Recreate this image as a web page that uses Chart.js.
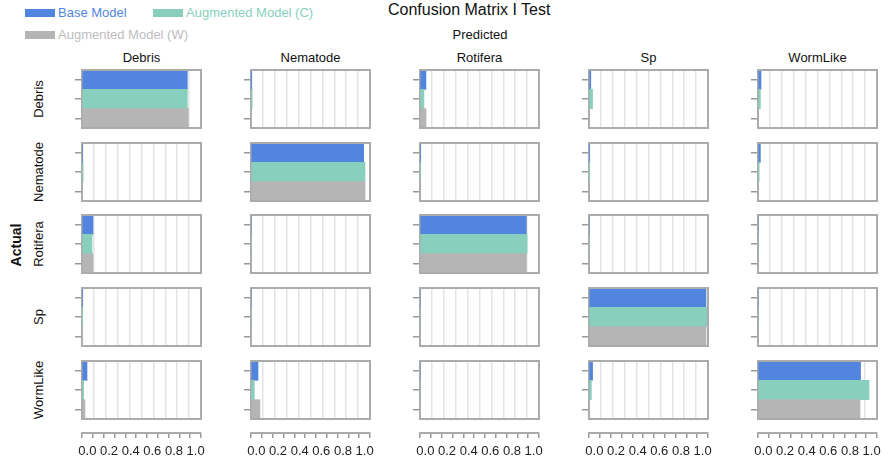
<!DOCTYPE html>
<html>
<head>
<meta charset="utf-8">
<script src="https://cdn.jsdelivr.net/npm/chart.js@4.4.1/dist/chart.umd.min.js"></script>
<style>
body { margin: 0; width: 889px; height: 466px; position: relative; background: #fff; overflow: hidden;
       font-family: "Liberation Sans", Arial, Helvetica, sans-serif; }
.t { position: absolute; white-space: nowrap; color: #111; line-height: 1; }
.rot { transform: translate(-50%, -50%) rotate(-90deg); }
.ctr { transform: translateX(-50%); }
.box { position: absolute; width: 30px; height: 8px; }
canvas { position: absolute; }
</style>
</head>
<body>
<script>
const classes = ['Debris', 'Nematode', 'Rotifera', 'Sp', 'WormLike'];
const models = ['Base Model', 'Augmented Model (C)', 'Augmented Model (W)'];
const colors = ['#5286DE', '#88CFBE', '#B5B5B5'];
const textColors = ['#5286DE', '#88CFBE', '#BDBDBD'];

// rows = actual, cols = predicted
const baseModel = [
   [0.885, 0.003, 0.05, 0.015, 0.025],
   [0.005, 0.947, 0.005, 0.005, 0.02],
   [0.092, 0, 0.894, 0, 0],
   [0.005, 0, 0, 0.983, 0],
   [0.042, 0.059, 0, 0.03, 0.862]
];
const augC = [
   [0.885, 0.01, 0.033, 0.03, 0.02],
   [0.01, 0.958, 0.005, 0.003, 0.01],
   [0.084, 0, 0.9, 0, 0],
   [0.003, 0, 0, 0.997, 0],
   [0.014, 0.028, 0, 0.02, 0.933]
];
const augW = [
   [0.894, 0, 0.05, 0, 0],
   [0, 0.958, 0.005, 0, 0],
   [0.092, 0, 0.894, 0, 0],
   [0.003, 0, 0, 0.983, 0],
   [0.025, 0.075, 0.005, 0.005, 0.857]
];
const xTickValues = [0, 0.1, 0.2, 0.3, 0.4, 0.5, 0.6, 0.7, 0.8, 0.9, 1.0];

// layout
const colLeft0 = 82, colStep = 169, panelW = 119;
const rowTop0 = 70, rowStep = 72.7, panelH = 58;

function addText(txt, x, y, cls, style) {
   let d = document.createElement('div');
   d.className = 't ' + (cls || '');
   d.textContent = txt;
   d.style.left = x + 'px';
   d.style.top = y + 'px';
   Object.assign(d.style, style || {});
   document.body.appendChild(d);
   return d;
}

// titles
addText('Confusion Matrix I Test', 388, 2, '', { fontSize: '16px' });
addText('Predicted', 480, 28, 'ctr', { fontSize: '13px' });
addText('Actual', 16, 245, 'rot', { fontSize: '14px', fontWeight: 'bold' });

// legend
const legendPos = [[25, 9], [153, 9], [25, 31]];
models.forEach((m, i) => {
   let b = document.createElement('div');
   b.className = 'box';
   b.style.left = legendPos[i][0] + 'px';
   b.style.top = legendPos[i][1] + 'px';
   b.style.background = colors[i];
   document.body.appendChild(b);
   addText(m, legendPos[i][0] + 33, legendPos[i][1] - 3, '', { fontSize: '13px', color: textColors[i] });
});

classes.forEach((c, i) => {
   addText(c, colLeft0 + colStep * i + panelW / 2, 51, 'ctr', { fontSize: '13px' });
   addText(c, 38, rowTop0 + rowStep * i + panelH / 2, 'rot', { fontSize: '13px' });
});

const framePlugin = {
   id: 'frame',
   beforeDatasetsDraw(chart) {
      const { ctx, chartArea: a } = chart;
      ctx.save();
      ctx.strokeStyle = '#ababab';
      ctx.lineWidth = 2;
      ctx.strokeRect(a.left, a.top, a.right - a.left, a.bottom - a.top);
      ctx.restore();
   },
   afterDatasetsDraw(chart) {
      const { ctx, chartArea: a } = chart;
      ctx.save();
      ctx.strokeStyle = '#ababab';
      ctx.lineWidth = 2;
      ctx.beginPath();
      ctx.moveTo(a.left - 1, a.top);
      ctx.lineTo(a.right, a.top);
      ctx.lineTo(a.right, a.bottom);
      ctx.lineTo(a.left - 1, a.bottom);
      ctx.stroke();
      ctx.restore();
   }
};

function makeCanvas(x, y, w, h) {
   let wrap = document.createElement('div');
   wrap.style.position = 'absolute';
   wrap.style.left = x + 'px';
   wrap.style.top = y + 'px';
   wrap.style.width = w + 'px';
   wrap.style.height = h + 'px';
   let cv = document.createElement('canvas');
   cv.style.left = '0px';
   cv.style.top = '0px';
   wrap.appendChild(cv);
   document.body.appendChild(wrap);
   return cv;
}

// 25 panels
for (let r = 0; r < classes.length; r++) {
   for (let c = 0; c < classes.length; c++) {
      let cv = makeCanvas(colLeft0 + colStep * c - 8, Math.round(rowTop0 + rowStep * r) - 2, panelW + 10, panelH + 4);
      new Chart(cv, {
         type: 'bar',
         data: {
            labels: models,
            datasets: [{
               data: [baseModel[r][c], augC[r][c], augW[r][c]],
               backgroundColor: colors,
               borderWidth: 0,
               barPercentage: 1,
               categoryPercentage: 1
            }]
         },
         options: {
            indexAxis: 'y',
            responsive: true,
            maintainAspectRatio: false,
            animation: false,
            layout: { padding: { top: 2, right: 2, left: 0, bottom: 0 } },
            plugins: { legend: { display: false }, tooltip: { enabled: false } },
            scales: {
               x: {
                  type: 'linear', min: 0, max: 1,
                  afterBuildTicks: s => { s.ticks = xTickValues.map(v => ({ value: v })); },
                  ticks: { display: false },
                  grid: { color: '#e3e3e3', lineWidth: 1.5, drawTicks: false },
                  border: { display: false },
                  afterFit: s => { s.height = 2; }
               },
               y: {
                  ticks: { display: false },
                  grid: { offset: false, drawOnChartArea: false, drawTicks: true, tickLength: 7, color: '#999', lineWidth: 1.5 },
                  border: { display: false },
                  afterFit: s => { s.width = 8; }
               }
            }
         },
         plugins: [framePlugin]
      });
   }
}

// bottom axes
for (let c = 0; c < classes.length; c++) {
   let cv = makeCanvas(colLeft0 + colStep * c - 15, 429, panelW + 30, 35);
   new Chart(cv, {
      type: 'bar',
      data: { labels: [], datasets: [] },
      options: {
         responsive: true,
         maintainAspectRatio: false,
         animation: false,
         layout: { padding: { top: 0, left: 15, right: 15, bottom: 0 } },
         plugins: { legend: { display: false }, tooltip: { enabled: false } },
         scales: {
            x: {
               type: 'linear', min: 0, max: 1,
               afterBuildTicks: s => { s.ticks = xTickValues.map(v => ({ value: v })); },
               ticks: {
                  autoSkip: false, maxRotation: 0, padding: 6, color: '#222',
                  font: { family: '"Liberation Sans", Arial, sans-serif', size: 13 },
                  callback: (v, i) => i % 2 ? '' : v.toFixed(1)
               },
               grid: { drawOnChartArea: false, drawTicks: true, tickLength: 5, color: '#999', lineWidth: 1.5 },
               border: { display: true, color: '#ababab', width: 2 },
               afterFit: s => { s.height = 31; }
            },
            y: { display: false }
         }
      }
   });
}
</script>
</body>
</html>
